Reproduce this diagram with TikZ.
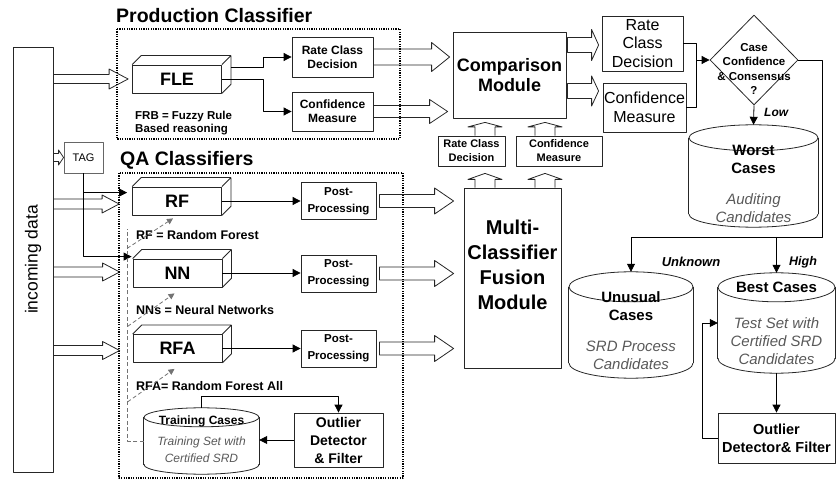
\documentclass[tikz,border=0pt]{standalone}
\usepackage{fontspec}
\setmainfont{Liberation Sans}
\usetikzlibrary{arrows.meta,shapes.geometric,calc}

\newcommand\fsz[2]{\fontsize{#1}{#2}\selectfont}
\newcommand\hd{\bfseries}
\newcommand\sub{\itshape\color{black!65}}

% block arrows: start, end, shaft half width, head half width, head length
\newcommand\fatright[5]{%
  \draw[fat] let \p1=(#1), \p2=(#2) in
    (\x1,{\y1+#3pt}) -- ({\x2-#5pt},{\y1+#3pt}) -- ({\x2-#5pt},{\y1+#4pt})
    -- (\x2,\y1) -- ({\x2-#5pt},{\y1-#4pt}) -- ({\x2-#5pt},{\y1-#3pt})
    -- (\x1,{\y1-#3pt}) -- cycle;}
\newcommand\fatup[5]{%
  \draw[fat] let \p1=(#1), \p2=(#2) in
    ({\x1-#3pt},\y1) -- ({\x1-#3pt},{\y2-#5pt}) -- ({\x1-#4pt},{\y2-#5pt})
    -- (\x1,\y2) -- ({\x1+#4pt},{\y2-#5pt}) -- ({\x1+#3pt},{\y2-#5pt})
    -- ({\x1+#3pt},\y1);}
% database drum round a node: name, x radius, y radius
\newcommand\drum[3]{%
  \draw[fat] ($(#1.north)+(0,#3)$) ellipse [x radius=#2, y radius=#3];
  \draw[fat] ($(#1.north west)+(0,#3)$) -- ($(#1.south west)+(0,-#3)$)
             ($(#1.north east)+(0,#3)$) -- ($(#1.south east)+(0,-#3)$);
  \begin{scope}
    \clip ($(#1.south west)+(-2,-#3)$) rectangle ($(#1.south east)+(2,2)$);
    \draw[fat] ($(#1.south)+(0,-#3)$) ellipse [x radius=#2, y radius=#3];
  \end{scope}}

\tikzset{
  box/.style={draw=black!85, line width=0.8pt, align=center, inner sep=0pt},
  cube/.style={box, minimum width=89, minimum height=28, font=\fsz{18}{20}\bfseries},
  drum/.style={inner sep=0pt},
  frame/.style={line width=1.2pt, dash pattern=on 1.2pt off 1.2pt},
  fat/.style={draw=black!85, line width=0.8pt},
  flow/.style={draw=black, line width=0.8pt, -{Triangle[length=8pt,width=8pt]}},
  hint/.style={draw=black!55, line width=0.8pt, dash pattern=on 4pt off 2.5pt, -{Triangle[length=6pt,width=6pt]}},
  note/.style={anchor=west, inner sep=0pt, font=\fsz{12.5}{13}\bfseries, align=left},
}

\begin{document}
\begin{tikzpicture}[x=1pt,y=-1pt,line join=round]
\useasboundingbox (0,0) rectangle (836,481);

% input bar and tag
\node[box, rotate=90, minimum width=425, minimum height=40, font=\fsz{17.5}{20}] (data) at (33,259.5) {incoming data};
\node[box, draw=black!60, minimum width=39, minimum height=31, font=\fsz{11}{13}] (tag) at (83.5,157.5) {TAG};

% production classifier
\node[anchor=west, inner sep=0pt, font=\fsz{19.5}{20}\bfseries] (prodT) at (116,16) {Production Classifier};
\node[cube] (fle) at (177,79) {\raisebox{-5pt}{FLE}};
\node[box, minimum width=81, minimum height=40, font=\fsz{12}{14}\bfseries] (rcdA) at (332.5,57) {Rate Class\\Decision};
\node[box, minimum width=81, minimum height=39, font=\fsz{12}{14}\bfseries] (cmA) at (332.5,111.5) {Confidence\\Measure};
\node[note, font=\fsz{11.5}{13}\bfseries] (frb) at (135,123.5) {FRB = Fuzzy Rule\\Based reasoning};

% QA classifiers
\node[anchor=west, inner sep=0pt, font=\fsz{19.5}{20}\bfseries] (qaT) at (120,160) {QA Classifiers};
\node[cube] (rf) at (177,201) {\raisebox{-5pt}{RF}};
\node[cube] (nn) at (177.5,273) {\raisebox{-5pt}{NN}};
\node[cube] (rfa) at (177.5,348.5) {\raisebox{-5pt}{RFA}};
\foreach \n in {fle,rf,nn,rfa}
  \draw[black!85, line width=0.8pt] (\n.north west) -- ++(9,-9) -| ($(\n.south east)+(9,-9)$) -- (\n.south east)
    (\n.north east) -- ++(9,-9);
\foreach \n/\y in {1/201,2/273.5,3/348.5}
  \node[box, minimum width=75, minimum height=37, font=\fsz{11.5}{17}\bfseries] (post\n) at (338.5,\y) {Post-\\Processing};
\node[note] (rfN) at (136,235) {RF = Random Forest};
\node[note] (nnN) at (136,310) {NNs = Neural Networks};
\node[note] (rfaN) at (136,386) {RFA= Random Forest All};

\node[drum, minimum width=115, minimum height=66] (train) at (201.5,441) {};
\drum{train}{57.5}{9.5}
\node[align=center, inner sep=0pt, font=\fsz{12}{17}] (trainT) at (201.5,439.5) {\hd Training Cases\\[4pt]\sub Training Set with\\\sub Certified SRD};
\node[box, minimum width=89, minimum height=54, font=\fsz{14}{18}\bfseries] (outA) at (338.5,440) {Outlier\\Detector\\\& Filter};

% comparison and fusion
\node[box, minimum width=113, minimum height=86, font=\fsz{18}{20}\bfseries] (comp) at (509.5,75) {Comparison\\Module};
\node[box, minimum width=67, minimum height=30, font=\fsz{11}{14}\bfseries] (rcdC) at (471.5,151) {Rate Class\\Decision};
\node[box, minimum width=86, minimum height=30, font=\fsz{11}{14}\bfseries] (cmC) at (559,151) {Confidence\\Measure};
\node[box, minimum width=97, minimum height=180] (fusion) at (512.5,278) {};
\node[align=center, inner sep=0pt, font=\fsz{20}{25}\bfseries] (fusionT) at (512.5,265) {Multi-\\Classifier\\Fusion\\Module};

% decision side
\node[box, minimum width=81, minimum height=55, font=\fsz{16}{18.5}] (rcdB) at (642.5,43.5) {Rate\\Class\\Decision};
\node[box, minimum width=83, minimum height=49, font=\fsz{16}{19}] (cmB) at (644.5,107.5) {Confidence\\Measure};
\node[diamond, draw=black!85, line width=0.8pt, minimum width=88, minimum height=90, inner sep=0pt] (dec) at (754,60) {};
\node[align=center, inner sep=0pt, font=\fsz{11.5}{14.5}\bfseries] (decT) at (754,69) {Case\\Confidence\\\& Consensus\\?};

\node[drum, minimum width=129, minimum height=102] (worst) at (753.5,176) {};
\drum{worst}{64.5}{13}
\node[align=center, inner sep=0pt, font=\fsz{15}{18}] (worstT) at (753.5,184) {\hd Worst\\\hd Cases\\[13pt]\sub Auditing\\\sub Candidates};
\node[drum, minimum width=124, minimum height=106] (unus) at (631,325) {};
\drum{unus}{62}{15}
\node[align=center, inner sep=0pt, font=\fsz{15}{18}] (unusT) at (631,331) {\hd Unusual\\\hd Cases\\[13pt]\sub SRD Process\\\sub Candidates};
\node[drum, minimum width=117, minimum height=100] (best) at (776.5,323) {};
\drum{best}{58.5}{14.5}
\node[align=center, inner sep=0pt, font=\fsz{15}{18}] (bestT) at (776.5,323) {\hd Best Cases\\[18pt]\sub Test Set with\\\sub Certified SRD\\\sub Candidates};
\node[box, minimum width=117, minimum height=50, font=\fsz{14.5}{18}\bfseries] (outB) at (776.5,438) {Outlier\\Detector\& Filter};

\node[anchor=west, inner sep=0pt, font=\fsz{12}{14}\bfseries\itshape] (low) at (764,112) {Low};
\node[inner sep=0pt, font=\fsz{13}{14}\bfseries\itshape] (unk) at (691,262) {Unknown};
\node[inner sep=0pt, font=\fsz{12.5}{14}\bfseries\itshape] (high) at (803,262) {High};

% block arrows
\fatright{data.south |- fle.west}{$(fle.west)+(-4,0)$}{4.5}{10}{19}
\fatright{data.south |- tag.west}{tag.west}{4}{7.5}{5}
\fatright{$(data.south |- rf.west)+(0,3)$}{$(rf.west)+(-13,0)$}{5}{9}{17}
\fatright{$(data.south |- nn.west)+(0,-1)$}{$(nn.west)+(-13,0)$}{5}{9}{17}
\fatright{$(data.south |- rfa.west)+(0,2)$}{$(rfa.west)+(-13,0)$}{5}{9}{17}
\fatright{rcdA.east}{$(comp.west)+(-3,0)$}{8}{14.5}{18}
\fatright{cmA.east}{$(comp.west)+(-5,0)$}{6}{12}{18}
\fatright{$(post1.east)+(3,0)$}{$(fusion.west)+(-10,0)$}{6.5}{13}{19}
\fatright{$(post2.east)+(3,0)$}{$(fusion.west)+(-10,0)$}{6.5}{13}{19}
\fatright{$(post3.east)+(3,0)$}{$(fusion.west)+(-10,0)$}{6.5}{13}{19}
\fatright{$(comp.east)+(1,-30)$}{$(rcdB.west)+(-3,0)$}{7.5}{15.5}{7}
\fatright{$(comp.east)+(1,16)$}{$(cmB.west)+(-4,0)$}{7.5}{15}{7}
\fatup{$(rcdC.north)+(13.5,0)$}{$(comp.south)+(0,4)$}{10}{17}{4.5}
\fatup{$(cmC.north)+(-14,0)$}{$(comp.south)+(0,4)$}{10}{17}{4.5}
\fatup{$(rcdC.south |- fusion.north)+(13.5,0)$}{$(rcdC.south)+(0,7)$}{10}{17}{6}
\fatup{$(cmC.south |- fusion.north)+(-14,0)$}{$(cmC.south)+(0,7)$}{10}{17}{6}

% connectors
\draw[flow] ($(fle.east)+(9,-12)$) -- ++(32,0) |- (rcdA.west);
\draw[flow] (fle.east) -- ++(41,0) |- (cmA.west);
\coordinate (rfin) at ($(rf.north west)+(-5,6)$);
\draw[flow] (tag.south) |- ($(nn.north west)+(-1,-2)$);
\draw[flow] (tag.south |- rfin) -- (rfin);
\draw[flow] (rf.east) -- (rf.east -| post1.west);
\draw[flow] (nn.east) -- (nn.east -| post2.west);
\draw[flow] (rfa.east) -- (rfa.east -| post3.west);
\draw[flow] (train.north) -- ++(0,-11) -| (outA.north);
\draw[flow] (outA.west) -- (outA.west -| train.east);
\draw[hint, -] (train.west) -- ++(-16,0) -- ++(0,-212);
\draw[hint] ($(rf.south west)+(-5,33)$) -- ($(rf.south)+(-4,3)$);
\draw[hint] ($(nn.south west)+(-5,39)$) -- ($(nn.south)+(-3,6)$);
\draw[hint] ($(rfa.south west)+(-5,39)$) -- ($(rfa.south)+(-3,6)$);

\draw[black, line width=0.8pt] (rcdB.east) -- ++(13,0) coordinate (jn) |- (cmB.east);
\draw[flow] (jn |- dec.west) -- (dec.west);
\draw[flow] (dec.south) -- (worst.north);
\coordinate (split) at ($(dec.east)+(24,177)$);
\draw[flow] (dec.east) -| (split) -| (unus.north);
\draw[flow] (best.north |- split) -- (best.north);
\draw[flow] (best.south) -- (outB.north);
\draw[flow] (outB.west) -- ++(-15,0) |- (best.west);

% dotted group frames
\draw[frame] (117,29) rectangle (400,139);
\draw[frame] (119,173) rectangle (403,478);
\end{tikzpicture}
\end{document}
